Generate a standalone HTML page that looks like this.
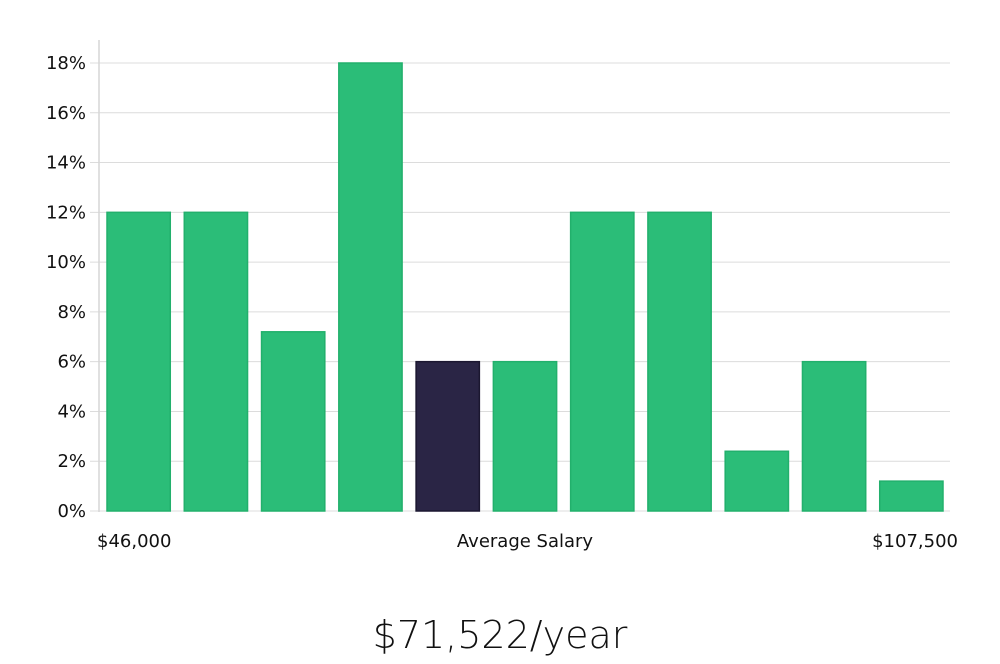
<!DOCTYPE html>
<html><head><meta charset="utf-8"><style>
body{margin:0;background:#fff;width:1000px;height:660px;overflow:hidden;font-family:"DejaVu Sans","Liberation Sans",sans-serif}
svg text{font-family:"DejaVu Sans","Liberation Sans",sans-serif}
</style></head><body>
<svg width="1000" height="660">
<g id="grid"></g>
<g id="bars"></g>
<line x1="99" y1="40" x2="99" y2="512" stroke="#d6d6d6" stroke-width="1.5"/>
<text x="97" y="547" font-size="18" fill="#111">$46,000</text>
<text x="525" y="547" font-size="18" fill="#111" text-anchor="middle">Average Salary</text>
<text x="958" y="547" font-size="18" fill="#111" text-anchor="end">$107,500</text>
<text x="500" y="648" font-size="38" fill="#111" text-anchor="middle" font-weight="300">$71,522/year</text>
</svg>
<script>
const values=[12,12,7.2,18,6,6,12,12,2.4,6,1.2];
const highlightIndex=4;
const ticks=[0,2,4,6,8,10,12,14,16,18];
const ns="http://www.w3.org/2000/svg";
const x0=100,x1=950,yBase=511,yTop=63,maxV=18;
const y=v=>yBase-(v/maxV)*(yBase-yTop);
const step=(x1-x0)/values.length;
const g=document.getElementById('grid');
ticks.forEach(t=>{
 const l=document.createElementNS(ns,'line');
 
 
 l.setAttribute('x1',90);l.setAttribute('x2',x1);l.setAttribute('y1',y(t));l.setAttribute('y2',y(t));
 l.setAttribute('stroke','#dcdcdc');l.setAttribute('stroke-width','1');
 g.appendChild(l);
 const tx=document.createElementNS(ns,'text');
 
 
 tx.setAttribute('x',86);tx.setAttribute('y',y(t)+6);tx.setAttribute('text-anchor','end');
 tx.setAttribute('font-size','18');tx.setAttribute('fill','#111');
 tx.textContent=t+'%';g.appendChild(tx);
});
const b=document.getElementById('bars');
values.forEach((v,i)=>{
 const r=document.createElementNS(ns,'rect');
 
 
 const bx=x0+i*step+7;
 r.setAttribute('x',bx);r.setAttribute('width',step-14);
 r.setAttribute('y',y(v));r.setAttribute('height',yBase-y(v));
 const hi=i===highlightIndex;
 r.setAttribute('fill',hi?'#2a2545':'#2bbd78');
 r.setAttribute('stroke',hi?'#1b1730':'#22b06c');r.setAttribute('stroke-width','1.5');
 b.appendChild(r);
});
</script>
</body></html>
